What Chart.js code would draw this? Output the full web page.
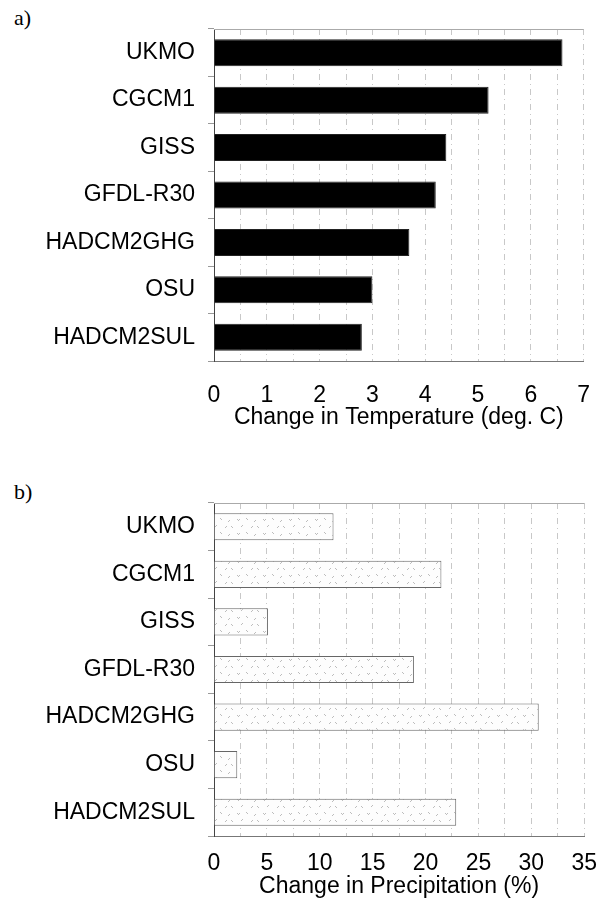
<!DOCTYPE html>
<html>
<head>
<meta charset="utf-8">
<script src="https://cdn.jsdelivr.net/npm/chart.js@4.4.0/dist/chart.umd.min.js"></script>
<style>
  html, body { margin: 0; padding: 0; background: #fff; }
  body { width: 611px; height: 907px; position: relative; overflow: hidden; }
  .panel { position: absolute; left: 0; width: 611px; }
  .tag { position: absolute; left: 14px; font-family: 'Liberation Serif', 'Times New Roman', serif; font-size: 22px; color: #000; }
</style>
</head>
<body>
<div class="tag" style="top:5px">a)</div>
<div class="tag" style="top:479px">b)</div>
<div class="panel" style="top:0;height:440px"><canvas id="tempChart"></canvas></div>
<div class="panel" style="top:460px;height:447px"><canvas id="precChart"></canvas></div>
<script>
const models = ['UKMO', 'CGCM1', 'GISS', 'GFDL-R30', 'HADCM2GHG', 'OSU', 'HADCM2SUL'];
const tempChange = [6.6, 5.2, 4.4, 4.2, 3.7, 3.0, 2.8];
const precChange = [11.3, 21.5, 5.1, 18.9, 30.7, 2.2, 22.9];
const tempTicks = [0, 7, 0.5];   // min, max, grid step (labels on whole numbers)
const precTicks = [0, 35, 2.5];  // labels on multiples of 5

const FONT = "'Liberation Sans', Arial, sans-serif";

// light speckled fill like the scanned original
function speckle() {
  const c = document.createElement('canvas');
  c.width = 26; c.height = 14;
  const g = c.getContext('2d');
  g.fillStyle = '#fdfdfd';
  g.fillRect(0, 0, 26, 14);
  g.fillStyle = '#bdbdbd';
  [[3, 3], [4, 4], [5, 3], [12, 2], [13, 3], [20, 5], [21, 4], [7, 10], [8, 9], [17, 11], [18, 10], [23, 10], [24, 11]].forEach(([x, y]) => g.fillRect(x, y, 1, 1));
  return g.createPattern(c, 'repeat');
}

const frame = {
  id: 'frame',
  afterDraw(chart) {
    const { ctx, chartArea: a } = chart;
    ctx.save();
    ctx.strokeStyle = '#aaa';
    ctx.lineWidth = 1;
    ctx.beginPath();
    ctx.moveTo(a.left, a.top + 0.5);
    ctx.lineTo(a.right, a.top + 0.5);
    ctx.stroke();
    ctx.restore();
  }
};

function makeChart(id, values, ticks, title, fill, border, opts) {
  const [min, max, step] = ticks;
  const labelStep = step * 2;
  return new Chart(document.getElementById(id), {
    type: 'bar',
    data: {
      labels: models,
      datasets: [{ data: values, backgroundColor: fill, borderColor: border, borderWidth: 1,
        barPercentage: 0.57, categoryPercentage: 1 }]
    },
    options: {
      indexAxis: 'y',
      responsive: true,
      maintainAspectRatio: false,
      animation: false,
      layout: { padding: { top: opts.top, right: 24, left: 0, bottom: 0 } },
      plugins: { legend: { display: false }, tooltip: { enabled: false } },
      scales: {
        x: {
          min, max,
          afterFit: (s) => { s.height = opts.axisH; },
          grid: { color: '#c8c8c8', drawTicks: false },
          border: { display: true, color: '#777', dash: [6, 4, 1, 4] },
          ticks: {
            stepSize: step, maxTicksLimit: 30, autoSkip: false, maxRotation: 0,
            padding: opts.tickPad, color: '#000', font: { family: FONT, size: 23 },
            callback: (v) => (Math.abs(v / labelStep - Math.round(v / labelStep)) < 1e-6 ? String(v) : '')
          },
          title: { display: true, text: title, color: '#000', font: { family: FONT, size: 23 },
            padding: { top: 0, bottom: opts.titlePad } }
        },
        y: {
          afterFit: (s) => { s.width = 214; },
          grid: { drawOnChartArea: false, offset: true, tickLength: 6, color: '#999' },
          border: { display: true, color: '#444' },
          ticks: { padding: 13, color: '#000', font: { family: FONT, size: 23 } }
        }
      }
    },
    plugins: [frame]
  });
}

makeChart('tempChart', tempChange, tempTicks, 'Change in Temperature (deg. C)', '#000', '#222',
  { top: 29, axisH: 79, tickPad: 21, titlePad: 9 });
makeChart('precChart', precChange, precTicks, 'Change in Precipitation (%)', speckle(), '#666',
  { top: 43, axisH: 71, tickPad: 14, titlePad: 7 });
</script>
</body>
</html>
